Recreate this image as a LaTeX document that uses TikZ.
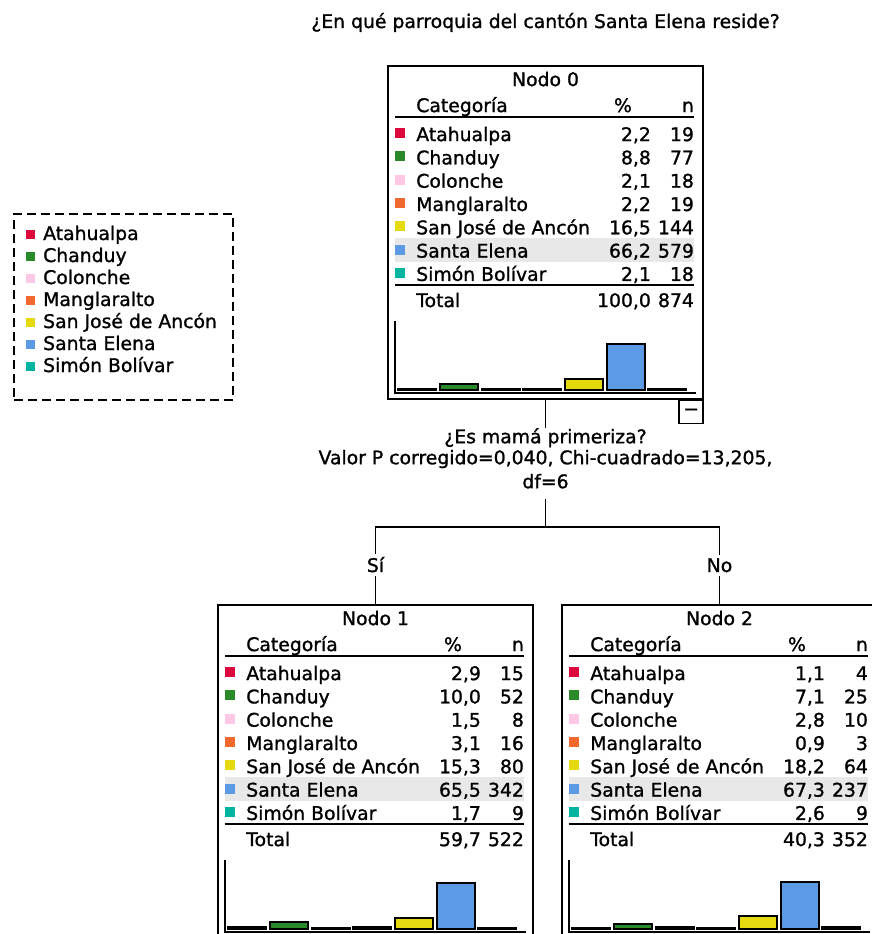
\documentclass[tikz,border=0pt]{standalone}
\usepackage{fontspec}
\setmainfont{DejaVu Sans}[BoldFont={DejaVu Sans}, BoldFeatures={FakeBold=1.2}]
\usetikzlibrary{positioning,calc}

\definecolor{cat0}{HTML}{DC0A3C}
\definecolor{cat1}{HTML}{2A8A2A}
\definecolor{cat2}{HTML}{FFC8E6}
\definecolor{cat3}{HTML}{F2692F}
\definecolor{cat4}{HTML}{E5D90F}
\definecolor{cat5}{HTML}{5C9AE6}
\definecolor{cat6}{HTML}{00B5A0}
\definecolor{band}{HTML}{E8E8E8}

\newcommand{\catlab}[1]{\ifcase#1\relax Atahualpa\or Chanduy\or Colonche\or Manglaralto\or San José de Ancón\or Santa Elena\or Simón Bolívar\fi}

% table + bars drawn inside a node box: #1 box, #2 number, #3 rows (pct/n), #4 total pct, #5 total n
\newcommand{\nodetab}[5]{%
  \fill[band] ($(#1.north west)+(8,173)$) rectangle ($(#1.north west)+(307,197)$);
  \node[anchor=base] (#1-title) at ($(#1.north)+(0,21)$) {Nodo #2};
  \node[anchor=base west] (#1-hcat) at ($(#1.north west)+(29,47)$) {Categoría};
  \node[anchor=base east] (#1-hpct) at ($(#1.north west)+(245,47)$) {\%};
  \node[anchor=base east] (#1-hn) at ($(#1.north west)+(307,47)$) {n};
  \draw[rule] ($(#1.north west)+(8,52)$) -- ($(#1.north west)+(307,52)$);
  \foreach \p/\n [count=\i from 0] in {#3} {
    \fill[cat\i] ($(#1.north west)+(8,63+23.3*\i)$) rectangle ++(10,10);
    \node[anchor=base west] (#1-lab\i) at ($(#1.north west)+(29,76+23.3*\i)$) {\catlab{\i}};
    \node[anchor=base east] (#1-pct\i) at ($(#1.north west)+(264,76+23.3*\i)$) {\pgfmathprintnumber{\p}};
    \node[anchor=base east] (#1-n\i) at ($(#1.north west)+(307,76+23.3*\i)$) {\n};
    \draw[bar, fill=cat\i] ($(#1.north west)+(11+41.7*\i,325)$) rectangle ++(38,-0.7*\p);
  }
  \draw[rule] ($(#1.north west)+(8,220)$) -- ($(#1.north west)+(307,220)$);
  \node[anchor=base west] (#1-tot) at ($(#1.north west)+(29,242)$) {Total};
  \node[anchor=base east] (#1-totpct) at ($(#1.north west)+(264,242)$) {#4};
  \node[anchor=base east] (#1-totn) at ($(#1.north west)+(307,242)$) {#5};
  % axes of the bar chart
  \draw[rule] ($(#1.north west)+(8,256)$) -- ($(#1.north west)+(8,328)$) -- ($(#1.north west)+(309,328)$);
}

\pgfkeys{/pgf/number format/.cd, fixed, fixed zerofill, precision=1, use comma, assume math mode=true}

\begin{document}
\begin{tikzpicture}[x=1pt, y=-1pt, inner sep=0pt, font=\fontsize{18.8}{21}\selectfont\bfseries]
  \tikzstyle{nodebox}=[draw, line width=1.8pt, minimum width=315pt, minimum height=333pt]
  \tikzstyle{edge}=[line width=1.6pt]
  \tikzstyle{rule}=[line width=1.6pt]
  \tikzstyle{bar}=[draw=black, line width=2pt]
  \useasboundingbox (0,0) rectangle (872,934);

  \node[anchor=base] (title) at (545.5,28) {¿En qué parroquia del cantón Santa Elena reside?};

  % legend
  \node[draw, dash pattern=on 9pt off 5pt, line width=1.5pt, minimum width=219pt, minimum height=186pt, anchor=north west] (legend) at (13,213) {};
  \foreach \i in {0,...,6} {
    \fill[cat\i] (26,230+22*\i) rectangle ++(9,9);
    \node[anchor=base west] (leg\i) at (43,240+22*\i) {\catlab{\i}};
  }

  % nodes
  \node[nodebox] (n0) at (545.5,232.5) {};
  \nodetab{n0}{0}{2.2/19, 8.8/77, 2.1/18, 2.2/19, 16.5/144, 66.2/579, 2.1/18}{100,0}{874}
  \node[draw, line width=1.5pt, minimum width=24pt, minimum height=23pt, anchor=north east] (n0tog) at (n0.south east) {−};

  \node[align=center, anchor=north] (split) at (545.5,428) {¿Es mamá primeriza?\\Valor P corregido=0,040, Chi-cuadrado=13,205,\\[3pt]df=6};
  \coordinate (fork) at (545.5,527);
  \node[anchor=base] (si) at (375.5,572) {Sí};
  \node[anchor=base] (no) at (719.5,572) {No};

  \node[nodebox] (n1) at (375.5,771.5) {};
  \nodetab{n1}{1}{2.9/15, 10.0/52, 1.5/8, 3.1/16, 15.3/80, 65.5/342, 1.7/9}{59,7}{522}
  \node[nodebox] (n2) at (719.5,771.5) {};
  \nodetab{n2}{2}{1.1/4, 7.1/25, 2.8/10, 0.9/3, 18.2/64, 67.3/237, 2.6/9}{40,3}{352}

  % connectors
  \draw[edge] (n0.south) -- (split.north);
  \draw[edge, shorten <=10pt] (split.south) -- (fork);
  \draw[edge] (fork) -| ([yshift=3pt]si.north);
  \draw[edge] (fork) -| ([yshift=3pt]no.north);
  \draw[edge, shorten <=4pt] (si.south) -- (n1.north);
  \draw[edge, shorten <=4pt] (no.south) -- (n2.north);
\end{tikzpicture}
\end{document}
